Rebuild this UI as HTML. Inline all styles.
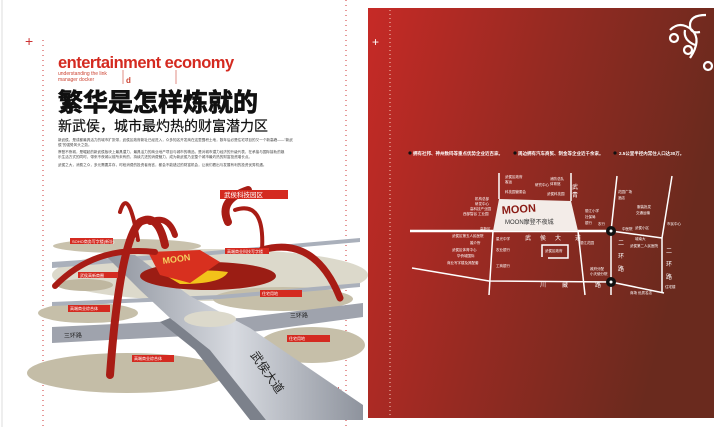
<!DOCTYPE html>
<html><head><meta charset="utf-8"><style>
html,body{margin:0;padding:0;background:#fff;}
body{width:720px;height:427px;overflow:hidden;position:relative;font-family:"Liberation Sans","Noto Sans CJK SC",sans-serif;}
svg{position:absolute;left:0;top:0;}
</style></head><body>
<svg width="720" height="427" viewBox="0 0 720 427" xmlns="http://www.w3.org/2000/svg" font-family="Liberation Sans, Noto Sans CJK SC, sans-serif">
<defs>
<linearGradient id="rg" x1="0" y1="0" x2="1" y2="0.3">
<stop offset="0" stop-color="#c62a26"/><stop offset="0.5" stop-color="#962a22"/><stop offset="1" stop-color="#6a2a1e"/>
</linearGradient>
<linearGradient id="road" x1="0" y1="0" x2="1" y2="0">
<stop offset="0" stop-color="#8e939d"/><stop offset="0.5" stop-color="#d7dae0"/><stop offset="1" stop-color="#8e939d"/>
</linearGradient>
</defs>
<rect x="0" y="0" width="720" height="427" fill="#fff"/>
<line x1="2" y1="0" x2="2" y2="427" stroke="#ddd" stroke-width="1"/>
<line x1="43" y1="40" x2="43" y2="427" stroke="#c33" stroke-width="1" stroke-dasharray="1,4"/>
<line x1="346" y1="0" x2="346" y2="427" stroke="#c33" stroke-width="1" stroke-dasharray="1,4"/>
<text x="25" y="46" font-size="14" fill="#c33">+</text>
<text x="335" y="394" font-size="12" fill="#c33">+</text>

<text x="58" y="68" font-size="16.5" font-weight="bold" fill="#d42a20" letter-spacing="-0.5">entertainment economy</text>
<text x="58" y="75" font-size="5" fill="#c43">understanding the link</text>
<text x="58" y="81" font-size="5" fill="#c43">manager docker</text>
<line x1="123" y1="70" x2="123" y2="84" stroke="#c43" stroke-width="0.6"/>
<line x1="176" y1="70" x2="176" y2="84" stroke="#c43" stroke-width="0.6"/>
<text x="126" y="83" font-size="8" fill="#c43" font-weight="bold">d</text>
<text x="58" y="111" font-size="25" font-weight="bold" fill="#111" stroke="#111" stroke-width="0.8">繁华是怎样炼就的</text>
<text x="58" y="131" font-size="14" fill="#111" stroke="#111" stroke-width="0.2">新武侯，城市最灼热的财富潜力区</text>
<g fill="#444" font-size="3.6">
<text x="58" y="141">新武侯，是成都最具活力的城市扩张带，武侯区政府新址已经进入，众多知名开发商在这里囤积土地，数年后必是住宅项目的又一个新高峰——"新武</text>
<text x="58" y="146">侯"的强势风头之劲。</text>
<text x="58" y="153">摩登不夜城，是崛起的新武侯板块上最具潜力，最具活力的商业地产项目与城市的精品，是对城市潜力经济的升级代表，在承接与国际接轨的娱</text>
<text x="58" y="158">乐生活方式的同时，带来不夜城以前所未有的，持续亢进的消费魅力，成为新武侯乃至整个城市最灼热的财富投资增长点。</text>
<text x="58" y="166">武侯之大，消费之众，多元需要并存，时段消费的投资者而言，都会不能错过的财富机会，让我们看出与发展有利的投资优秀机遇。</text>
</g>

<ellipse cx="210" cy="275" rx="158" ry="26" fill="#dcd9cb"/>
<ellipse cx="127" cy="246" rx="74" ry="7" fill="#c9c2ad"/>
<ellipse cx="85" cy="285" rx="28" ry="6" fill="#bfb7a0"/>
<ellipse cx="88" cy="313" rx="50" ry="10" fill="#c6bfa9"/>
<ellipse cx="283" cy="299" rx="70" ry="12" fill="#c6bfa9"/>
<ellipse cx="312" cy="345" rx="53" ry="18" fill="#c6bfa9"/>
<ellipse cx="127" cy="373" rx="100" ry="20" fill="#c4bda7"/>
<polygon points="52,327 240,318 363,303 363,317 245,333 52,343" fill="#9fa3ad"/>
<polygon points="52,262 200,252 360,238 360,242 200,256 52,268" fill="#aab0bb"/>
<polygon points="52,302 220,295 360,283 360,287 220,299 52,306" fill="#aab0bb"/>
<text x="64" y="338" font-size="6" fill="#222" transform="rotate(-3 64 338)">三环路</text>
<text x="290" y="318" font-size="6" fill="#222" transform="rotate(-3 290 318)">三环路</text>
<polygon points="105,255 135,255 190,296 250,328 363,405 363,420 266,420 210,350 170,318 140,290" fill="url(#road)"/>
<polygon points="170,318 210,350 266,420 250,420 195,350 160,322" fill="#7c818b"/>
<text x="250" y="355" font-size="12" fill="#222" transform="rotate(55 250 355)">武侯大道</text>
<ellipse cx="210" cy="319" rx="26" ry="8" fill="#dcd9cb"/>
<ellipse cx="208" cy="276" rx="68" ry="14" fill="#9b1d14"/>
<path d="M165 275 Q200 268 228 272 Q222 284 180 284 Z" fill="#f2c21a"/>
<polygon points="148,252 200,250 220,262 190,283 160,275" fill="#d8301f"/>
<text x="163" y="264" font-size="9" font-weight="bold" fill="#f4d060" transform="rotate(-8 163 264)">MOON</text>
<g fill="none" stroke="#a81c15" stroke-linecap="round">
<path d="M110 375 Q120 240 140 222 Q158 212 165 245" stroke-width="8"/>
<path d="M55 286 Q95 245 155 252" stroke-width="6"/>
<path d="M120 212 Q128 185 138 240" stroke-width="4"/>
<path d="M150 222 Q168 214 175 235" stroke-width="6"/>
<path d="M228 222 Q218 200 248 190" stroke-width="8"/>
<path d="M235 210 Q265 200 262 250" stroke-width="4"/>
<path d="M262 250 Q315 235 340 298" stroke-width="7"/>
</g>
<g fill="#d42a20">
<rect x="70" y="238" width="43" height="6"/>
<rect x="78" y="272" width="40" height="6"/>
<rect x="68" y="305" width="42" height="7"/>
<rect x="132" y="355" width="42" height="7"/>
<rect x="225" y="248" width="44" height="6"/>
<rect x="260" y="290" width="42" height="7"/>
<rect x="287" y="335" width="43" height="7"/>
<rect x="220" y="190" width="68" height="9"/>
</g>
<g fill="#fff" font-size="4">
<text x="72" y="243">SOHO商务写字楼(新址)</text>
<text x="80" y="277">武侯高新商圈</text>
<text x="70" y="310">高端商业综合体</text>
<text x="134" y="360">高端商业综合体</text>
<text x="227" y="253">高端商业科技写字楼</text>
<text x="262" y="295">住宅用地</text>
<text x="289" y="340">住宅用地</text>
<text x="224" y="197" font-size="6.5">武侯科技园区</text>
</g>

<rect x="368" y="8" width="346" height="410" fill="url(#rg)"/>
<line x1="390" y1="10" x2="390" y2="416" stroke="#f5d0c0" stroke-width="1" stroke-dasharray="1,3"/>
<text x="372" y="46" font-size="12" fill="#fff">+</text>
<g fill="none" stroke="#fff" stroke-width="2.2">
<path d="M706 15 Q690 15 690 25 Q690 34 700 32"/>
<path d="M695 45 Q683 40 685 30"/>
<circle cx="674" cy="38" r="4"/>
<circle cx="688" cy="50" r="4"/>
<path d="M670 30 Q680 20 692 30 Q702 40 690 58"/>
<circle cx="708" cy="66" r="4"/>
</g>
<g font-size="4.5" fill="#fff" font-weight="bold">
<circle cx="410" cy="153" r="1.6" fill="#111"/>
<text x="413" y="155">拥有社邦、神州数码等重点优势企业近百家。</text>
<circle cx="515" cy="153" r="1.6" fill="#111"/>
<text x="518" y="155">周边拥有汽车商贸、制金等企业近千余家。</text>
<circle cx="615" cy="153" r="1.6" fill="#111"/>
<text x="619" y="155">2.5公里半径内常住人口达30万。</text>
</g>
<g fill="none" stroke="#fff" stroke-width="1.5">
<line x1="410" y1="231" x2="611" y2="231" stroke-width="2.5"/>
<line x1="499" y1="173" x2="499" y2="199"/>
<line x1="571" y1="173" x2="571" y2="201"/>
<polyline points="493,231 489,295"/>
<polyline points="578,231 585,295"/>
<polyline points="412,268 489,281 611,282 664,293"/>
<polyline points="617,176 611,231 611,295"/>
<polyline points="672,176 662,238 662,293"/>
<line x1="611" y1="231" x2="662" y2="238"/>
<path d="M542 257 L542 245 L568 245 L568 258 L548 258"/>
</g>
<polygon points="499,199 571,201 578,231 493,231" fill="#f3ece8"/>
<text x="502" y="214" font-size="11" font-weight="bold" fill="#8a1a14" transform="rotate(-4 502 214)">MOON</text>
<text x="505" y="224" font-size="6" fill="#333">MOON摩登不夜城</text>
<circle cx="611" cy="231" r="5" fill="#111"/><circle cx="611" cy="231" r="1.5" fill="#fff"/>
<circle cx="611" cy="282" r="5" fill="#111"/><circle cx="611" cy="282" r="1.5" fill="#fff"/>
<g font-size="6" fill="#fff">
<text x="525" y="240">武</text><text x="540" y="240">侯</text><text x="555" y="240">大</text><text x="575" y="240">道</text>
<text x="540" y="287">川</text><text x="562" y="287">藏</text><text x="595" y="287">路</text>
<text x="618" y="245">二</text><text x="618" y="258">环</text><text x="618" y="271">路</text>
<text x="666" y="253">二</text><text x="666" y="266">环</text><text x="666" y="279">路</text>
<text x="572" y="189">武</text><text x="572" y="197">青</text>
</g>
<g font-size="3.5" fill="#fff">
<text x="505" y="178">武侯区政府</text><text x="505" y="183">客运</text>
<text x="505" y="193">科技园管委会</text>
<text x="535" y="186">研究中心</text>
<text x="550" y="180">消防总队</text><text x="550" y="185">体育馆</text>
<text x="547" y="195">武侯科技园</text>
<text x="475" y="200">机构总部</text><text x="475" y="205">研发中心</text><text x="470" y="210">高科技产业园</text><text x="478" y="215">工业园</text>
<text x="463" y="215">西部智谷</text>
<text x="480" y="230">高新区</text>
<text x="452" y="237">武侯区第五人民医院</text><text x="496" y="240">星光中学</text>
<text x="470" y="244">婚介所</text><text x="496" y="251">农业银行</text>
<text x="452" y="251">武侯区体育中心</text><text x="457" y="257">华侨城国际</text>
<text x="447" y="264">商业写字楼及其配套</text><text x="496" y="267">工商银行</text>
<text x="545" y="252">武侯区政府</text>
<text x="585" y="212">丽江小学</text><text x="585" y="218">社保局</text><text x="585" y="224">银行</text>
<text x="598" y="225">农行</text>
<text x="580" y="244">丽江花园</text>
<text x="590" y="270">政府分配</text><text x="590" y="275">小天使分院</text>
<text x="618" y="193">花园广场</text><text x="618" y="199">酒店</text>
<text x="622" y="230">中医院</text><text x="635" y="229">武侯小区</text>
<text x="635" y="240">城南大</text><text x="630" y="247">武侯第二人民医院</text>
<text x="637" y="208">服装批发</text><text x="636" y="214">交通运输</text>
<text x="667" y="225">市民中心</text>
<text x="665" y="288">住宅楼</text>
<text x="630" y="294">商场 优质名店</text>
</g>
</svg>
</body></html>
